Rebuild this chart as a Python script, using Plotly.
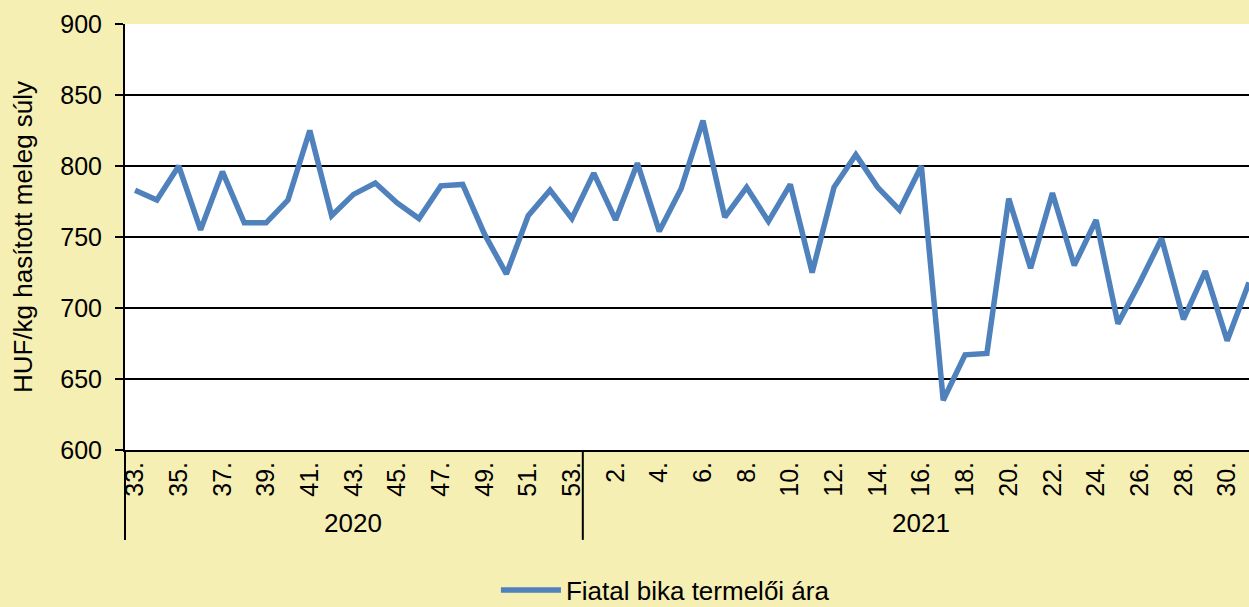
import plotly.graph_objects as go

weeks_2020 = ["33.", "34.", "35.", "36.", "37.", "38.", "39.", "40.", "41.", "42.", "43.",
              "44.", "45.", "46.", "47.", "48.", "49.", "50.", "51.", "52.", "53."]
weeks_2021 = ["1.", "2.", "3.", "4.", "5.", "6.", "7.", "8.", "9.", "10.", "11.", "12.",
              "13.", "14.", "15.", "16.", "17.", "18.", "19.", "20.", "21.", "22.", "23.",
              "24.", "25.", "26.", "27.", "28.", "29.", "30.", "31."]
price_2020 = [783, 776, 800, 755, 796, 760, 760, 776, 825, 765, 780, 788, 774, 763,
              786, 787, 752, 724, 765, 783, 763]
price_2021 = [795, 762, 802, 754, 784, 832, 764, 785, 761, 787, 725, 785, 808, 785,
              769, 800, 635, 667, 668, 777, 728, 781, 730, 762, 689, 718, 749, 692,
              726, 677, 718]
years = ["2020", "2021"]
series_name = "Fiatal bika termelői ára"
y_title = "HUF/kg hasított meleg súly"

categories = weeks_2020 + weeks_2021
values = price_2020 + price_2021
tick_labels = categories[::2]

FONT = "Liberation Sans, Arial, sans-serif"
BG = "#F5EFB4"
FS = 26

fig = go.Figure()
fig.add_trace(go.Scatter(
    x=categories, y=values, mode="lines", name=series_name,
    line=dict(color="#4F81BD", width=5.5), showlegend=True,
))

n20 = len(weeks_2020)
n21 = len(weeks_2021)
fig.update_layout(
    width=1249, height=607,
    margin=dict(l=125, r=0, t=24, b=157, autoexpand=False),
    paper_bgcolor=BG, plot_bgcolor="white",
    font=dict(family=FONT, size=FS, color="black"),
    showlegend=True,
    legend=dict(orientation="h", x=0.33, xanchor="left", yref="container", y=0.028,
                yanchor="middle", bgcolor="rgba(0,0,0,0)", font=dict(size=FS),
                itemwidth=60),
    xaxis=dict(type="category", categoryorder="array", categoryarray=categories,
               range=[-0.46, len(categories) - 1], tickmode="array", tickvals=tick_labels,
               ticktext=tick_labels, tickangle=-90, showgrid=False, ticks="",
               showline=True, linecolor="black", linewidth=2, automargin=False,
               tickfont=dict(size=25)),
    yaxis=dict(range=[600, 900], dtick=50, showgrid=True, gridcolor="black", gridwidth=2,
               showline=True, linecolor="black", linewidth=2, ticks="outside",
               ticklen=8, tickwidth=2, tickcolor="black", tickfont=dict(size=25),
               ticklabelstandoff=8, automargin=False,
               title=dict(text=y_title, standoff=20, font=dict(size=FS))),
)

div_bottom = -0.211
fig.add_shape(type="line", xref="paper", yref="paper", x0=0, x1=0, y0=div_bottom, y1=0,
              line=dict(color="black", width=2))
fig.add_shape(type="line", xref="x", yref="paper", x0=n20 - 0.5, x1=n20 - 0.5,
              y0=div_bottom, y1=0, line=dict(color="black", width=2))
fig.add_annotation(x=(n20 - 1) / 2, y=-0.171, xref="x", yref="paper", text=years[0],
                   showarrow=False, yanchor="middle", font=dict(size=FS))
fig.add_annotation(x=n20 - 0.5 + n21 / 2, y=-0.171, xref="x", yref="paper", text=years[1],
                   showarrow=False, yanchor="middle", font=dict(size=FS))

fig.write_html("out.html", config={"displayModeBar": False},
               post_script="document.body.style.margin='0';document.body.style.padding='0';"
                           "document.body.style.overflow='hidden';")
